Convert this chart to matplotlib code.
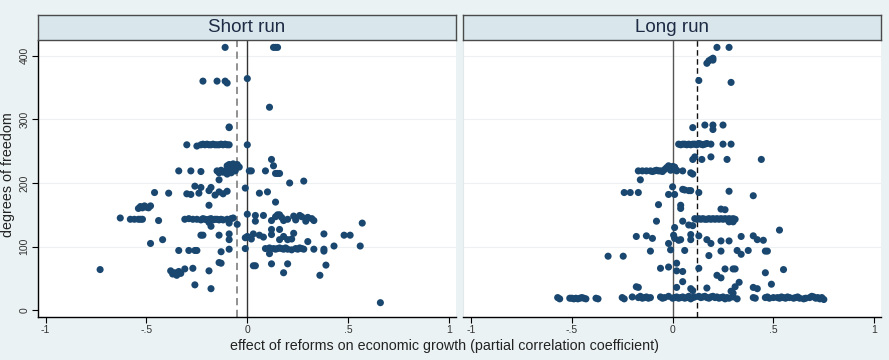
import matplotlib.pyplot as plt

plt.rcParams['font.family'] = ['Liberation Sans', 'DejaVu Sans']

# Short run: partial correlations and degrees of freedom
short_x = [-0.11, 0.13, 0.14, 0.15,
           -0.22, -0.15, -0.11, -0.10, 0.0, 0.11, -0.09, -0.09,
           -0.30, -0.25, -0.23, -0.22, -0.21, -0.20, -0.19, -0.18, -0.17, -0.16,
           -0.15, -0.14, -0.13, -0.12, -0.11, -0.10, -0.09, 0.0,
           -0.10, -0.09, -0.08, -0.07, -0.06, -0.05, -0.04, -0.08, -0.07, -0.06,
           -0.34, -0.28, -0.23, -0.15, -0.14, -0.13, -0.12, -0.11, -0.10, -0.08,
           -0.06, 0.01, 0.02, 0.09,
           0.13, 0.12, 0.14, 0.15, 0.16, 0.21, 0.28, -0.14,
           -0.26, -0.23, -0.18, -0.19, -0.46, -0.39, -0.30, -0.28, -0.24,
           -0.16, -0.14, -0.12, -0.10, -0.01, 0.06, 0.10, 0.14, -0.19,
           -0.54, -0.53, -0.52, -0.51, -0.50, -0.49, -0.48,
           -0.63, -0.58, -0.56, -0.54, -0.53, -0.52, -0.44,
           -0.31, -0.29, -0.27, -0.25, -0.23, -0.22, -0.21, -0.20, -0.19, -0.18,
           -0.17, -0.16, -0.15, -0.14, -0.13, -0.12, -0.10, -0.08, -0.07,
           -0.19, -0.18, -0.09, -0.05,
           0.0, 0.04, 0.08, 0.04, 0.12, 0.14, 0.15, 0.16, 0.17, 0.18,
           0.20, 0.23, 0.24, 0.26, 0.27, 0.29, 0.30, 0.32, 0.33,
           0.57, 0.16, 0.12,
           -0.23, -0.22, -0.14, -0.09, -0.09, -0.42, -0.48,
           -0.01, 0.0, 0.02, 0.03, 0.06, 0.08, 0.12, 0.16, 0.18, 0.20, 0.22, 0.23,
           0.38, 0.48, 0.51, 0.56, 0.43, 0.33, 0.38, 0.38, 0.30,
           -0.01, 0.09, 0.11, 0.13, 0.14, 0.15, 0.16, 0.17, 0.18, 0.19, 0.20, 0.22,
           0.24, 0.25, 0.26, 0.27, 0.28,
           -0.34, -0.29, -0.26, -0.25, -0.13, -0.09, 0.11,
           -0.14, -0.13, 0.03, 0.04, 0.12, 0.20, 0.39,
           -0.73, -0.38, -0.37, -0.36, -0.35, -0.34, -0.33, -0.31, -0.27, -0.19,
           -0.26, -0.18, 0.18, 0.36, 0.66]
short_y = [413, 413, 413, 413,
           360, 360, 360, 357, 364, 319, 287, 288,
           260, 258, 260, 261, 260, 261, 260, 260, 261, 260,
           260, 260, 261, 260, 261, 260, 260, 260,
           227, 229, 228, 230, 226, 229, 225, 222, 224, 221,
           219, 219, 218, 219, 216, 220, 217, 219, 214, 216,
           219, 219, 219, 219,
           227, 237, 215, 215, 215, 200, 203, 205,
           195, 193, 193, 188, 185, 184, 183, 182, 184,
           181, 186, 183, 187, 192, 184, 186, 170, 165,
           160, 163, 161, 164, 162, 161, 164,
           145, 143, 143, 143, 143, 143, 141,
           143, 144, 143, 143, 142, 144, 143, 142, 143, 144,
           142, 143, 143, 142, 143, 142, 143, 144, 145,
           138, 132, 137, 135,
           151, 149, 149, 140, 141, 147, 150, 150, 146, 141,
           143, 148, 142, 149, 147, 140, 146, 144, 141,
           137, 127, 127,
           118, 118, 118, 120, 111, 111, 105,
           114, 116, 112, 120, 118, 115, 119, 111, 116, 111, 112, 121,
           120, 118, 118, 101, 101, 96, 96, 93, 108,
           97, 97, 98, 97, 96, 97, 98, 97, 96, 98, 96, 95,
           97, 96, 98, 97, 96,
           94, 94, 94, 94, 92, 96, 89,
           75, 74, 70, 70, 73, 73, 71,
           64, 62, 57, 59, 55, 61, 58, 65, 66, 62,
           40, 34, 59, 55, 12]

# Long run
long_x = [0.22, 0.28, 0.17, 0.18, 0.19, 0.20, 0.20,
          0.13, 0.29, 0.10, 0.16, 0.20, 0.20, 0.25,
          0.03, 0.04, 0.05, 0.06, 0.07, 0.08, 0.09, 0.10, 0.11, 0.12, 0.13, 0.14,
          0.15, 0.16, 0.17, 0.19, 0.25, 0.29,
          0.10, 0.11, 0.145, 0.19, 0.27, 0.44,
          -0.17, -0.15, -0.13, -0.11, -0.10, -0.09, -0.08, -0.07, -0.06, -0.05,
          -0.04, -0.03, -0.02, -0.01, 0.0, 0.01, 0.02, -0.01, 0.0, 0.01, 0.02,
          0.05, 0.09, 0.10,
          -0.16, 0.0, 0.05, 0.06, 0.08, 0.09, 0.13, 0.28, 0.40,
          -0.24, -0.21, -0.17, -0.02, 0.01, -0.07, 0.04, 0.04, 0.24, 0.26,
          -0.08, 0.05, 0.08, 0.10,
          0.11, 0.12, 0.13, 0.14, 0.15, 0.16, 0.17, 0.18, 0.19, 0.20, 0.21, 0.22,
          0.23, 0.24, 0.25, 0.26, 0.27, 0.28, 0.29, 0.30, 0.31, 0.28, 0.30,
          0.01, 0.53, -0.18, -0.13, -0.10, 0.005, 0.01, 0.03, 0.04, -0.02,
          0.09, 0.09, 0.13, 0.17, 0.19, 0.24, 0.28, 0.34, 0.40, 0.42, 0.45,
          -0.32, -0.245, -0.11, -0.01, 0.06, 0.18, 0.24, 0.32, 0.34, 0.375,
          0.46, 0.47,
          -0.06, -0.02, 0.02, 0.02, 0.05, 0.13, 0.26, 0.30, 0.31, 0.22, 0.24,
          0.46, 0.55, 0.05, 0.33, 0.31, 0.49, -0.18, -0.17, 0.02, 0.09, 0.10,
          0.17, 0.29, 0.30, 0.40, 0.42,
          -0.57, -0.56, -0.51, -0.50, -0.49, -0.48, -0.47, -0.46, -0.45, -0.44,
          -0.43, -0.38, -0.37, -0.25, -0.24, -0.20, -0.17, -0.16, -0.15, -0.14,
          -0.13, -0.12, -0.11, -0.06, -0.05, -0.04, -0.02, 0.0, 0.01, 0.02,
          0.03, 0.04, 0.05, 0.06, 0.07, 0.08, 0.09, 0.10, 0.11, 0.13, 0.14,
          0.15, 0.16, 0.17, 0.18, 0.19, 0.20, 0.21, 0.22, 0.23, 0.24, 0.25,
          0.26, 0.27, 0.28, 0.30, 0.32, 0.40, 0.41, 0.46, 0.47, 0.48, 0.50,
          0.52, 0.53, 0.54, 0.55, 0.56, 0.57, 0.58, 0.60, 0.61, 0.62, 0.63,
          0.65, 0.66, 0.68, 0.69, 0.70, 0.71, 0.72, 0.73, 0.74, 0.75]
long_y = [413, 413, 388, 392, 394, 396, 393,
          361, 358, 287, 291, 291, 284, 291,
          261, 260, 261, 261, 260, 261, 260, 261, 261, 260, 262, 261,
          260, 261, 262, 261, 261, 261,
          237, 241, 237, 241, 237, 237,
          219, 219, 219, 219, 218, 219, 220, 219, 219, 218,
          221, 224, 227, 220, 226, 223, 219, 222, 221, 225, 220,
          219, 216, 214,
          205, 194, 190, 189, 188, 188, 185, 187, 180,
          185, 185, 185, 182, 182, 166, 165, 160, 159, 158,
          140, 140, 134, 133,
          144, 143, 144, 143, 144, 143, 143, 144, 143, 144, 143, 144,
          143, 144, 143, 144, 143, 144, 143, 144, 143, 139, 139,
          130, 126, 116, 117, 113, 118, 113, 110, 111, 105,
          119, 111, 117, 111, 105, 109, 109, 116, 117, 111, 110,
          85, 85, 93, 95, 94, 86, 93, 94, 88, 94,
          93, 93,
          66, 68, 74, 62, 61, 66, 65, 65, 65, 55, 51,
          59, 64, 45, 44, 37, 41, 37, 36, 36, 34, 31,
          35, 30, 27, 36, 34,
          20, 18, 19, 19, 18, 19, 18, 19, 20, 19,
          18, 19, 18, 20, 18, 21, 20, 22, 19, 20,
          21, 19, 20, 21, 19, 20, 22, 19, 20, 21,
          19, 20, 21, 19, 20, 22, 18, 20, 21, 22, 20,
          21, 22, 20, 19, 21, 22, 20, 21, 19, 20, 21,
          18, 20, 19, 21, 18, 20, 19, 20, 21, 19, 20,
          20, 19, 21, 20, 19, 21, 20, 19, 20, 21, 19,
          18, 19, 20, 22, 21, 19, 20, 18, 20, 17]

# reference lines (mean effect dashed, zero solid)
short_mean = -0.05
long_mean = 0.12

panel_titles = ['Short run', 'Long run']
x_ticks = [-1, -0.5, 0, 0.5, 1]
x_tick_labels = ['-1', '-.5', '0', '.5', '1']
y_ticks = [0, 100, 200, 300, 400]

navy = '#1a476f'
bg = '#eaf2f3'

fig = plt.figure(figsize=(8.89, 3.6), dpi=100, facecolor=bg)

panels = [
    (short_x, short_y, short_mean, 38),
    (long_x, long_y, long_mean, 463.3),
]

for i, (xs, ys, mean, left_px) in enumerate(panels):
    ax = fig.add_axes([left_px / 889, 43 / 360, 418 / 889, 277 / 360])
    ax.set_facecolor('white')

    # grid
    for yv in y_ticks[1:]:
        ax.axhline(yv, color='#eef1f2', lw=0.8, zorder=0)

    # reference lines
    if i == 0:
        ax.axvline(0, color='#333333', lw=1.0, zorder=1)
        ax.axvline(mean, color='#888888', lw=1.3, ls=(0, (4, 2.5)), zorder=1)
    else:
        ax.axvline(0, color='#555555', lw=1.0, zorder=1)
        ax.axvline(mean, color='#111111', lw=1.0, ls=(0, (4, 2.5)), zorder=1)

    ax.scatter(xs, ys, s=26, color=navy, edgecolors='none', zorder=3)

    ax.set_xlim(-1.038, 1.035)
    ax.set_ylim(-10.5, 424.6)
    ax.set_xticks(x_ticks)
    ax.set_xticklabels(x_tick_labels, fontsize=7.5, color='#333333')
    ax.tick_params(axis='x', length=4, width=0.8, pad=2)

    for side in ['top', 'right']:
        ax.spines[side].set_visible(False)
    ax.spines['bottom'].set_linewidth(1.0)

    if i == 0:
        ax.set_yticks(y_ticks)
        ax.set_yticklabels([str(v) for v in y_ticks], fontsize=7.5, rotation=90,
                           va='center', color='#333333')
        ax.tick_params(axis='y', length=4, width=0.8, pad=2)
        ax.spines['left'].set_linewidth(1.0)
    else:
        ax.set_yticks([])
        ax.spines['left'].set_color('#e3e8ea')

    # header strip
    hdr = fig.add_axes([left_px / 889, 320 / 360, 418 / 889, 25 / 360])
    hdr.set_facecolor('#d9e6eb')
    hdr.set_xticks([])
    hdr.set_yticks([])
    for sp in hdr.spines.values():
        sp.set_color('#4a4a4a')
        sp.set_linewidth(1.0)
    hdr.text(0.5, 0.48, panel_titles[i], ha='center', va='center',
             fontsize=13.5, color='#1e2b45', transform=hdr.transAxes)

fig.text(445 / 889, 1 - 346 / 360,
         'effect of reforms on economic growth (partial correlation coefficient)',
         ha='center', va='center', fontsize=10.3, color='#222222')
fig.text(8 / 889, 1 - 175 / 360, 'degrees of freedom', rotation=90,
         ha='center', va='center', fontsize=10.3, color='#222222')

fig.savefig('out.png', dpi=100, facecolor=bg)
